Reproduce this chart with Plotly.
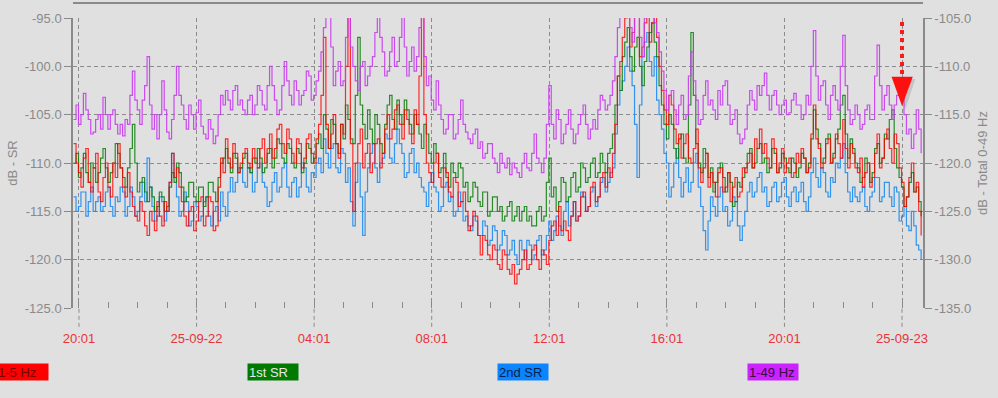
import pandas as pd
import plotly.graph_objects as go

# ---------------- data (5-minute samples) ----------------
start_time = "2025-09-21 19:50"
step = "5min"

band_1_5 = [
    -108.0, -110.0, -111.0, -112.5, -109.5, -108.5, -112.0, -113.0, -110.5, -109.0, -113.0, -114.0, -111.5, -110.0, -112.5, -113.5, -110.0, -111.5, -108.0, -110.5,
    -112.5, -113.5, -111.0, -113.0, -114.5, -115.5, -116.0, -114.0, -115.0, -116.5, -117.5, -115.0, -116.0, -117.0, -114.0, -115.5, -116.5, -114.0, -115.0, -112.0,
    -109.0, -111.5, -110.5, -112.5, -114.0, -115.5, -116.5, -115.0, -114.5, -117.0, -116.0, -114.0, -113.5, -116.5, -115.5, -113.5, -114.0, -117.0, -116.5, -112.5,
    -109.5, -111.0, -107.5, -109.5, -110.5, -108.0, -109.0, -111.0, -110.0, -109.0, -108.5, -110.0, -110.5, -108.5, -109.5, -110.5, -108.5, -107.5, -110.0, -108.5,
    -107.0, -109.5, -108.5, -106.5, -106.0, -108.0, -109.0, -106.5, -107.5, -109.0, -110.0, -107.5, -108.0, -110.5, -109.5, -107.5, -107.0, -109.0, -110.0, -107.5,
    -106.0, -103.0, -97.0, -106.0, -108.5, -107.0, -105.0, -108.0, -109.5, -106.0, -107.0, -100.0, -94.0, -108.0, -115.0, -110.0, -108.0, -106.5, -110.5, -109.0,
    -108.0, -111.0, -110.0, -108.0, -107.5, -110.5, -109.0, -106.5, -105.0, -107.5, -106.5, -104.5, -104.0, -106.0, -107.5, -104.5, -105.5, -107.0, -108.0, -104.5,
    -106.0, -101.0, -94.0, -105.0, -110.0, -111.0, -112.0, -110.0, -109.0, -111.5, -112.5, -110.5, -111.0, -113.0, -113.5, -111.5, -112.0, -114.5, -114.0, -113.0,
    -115.0, -117.0, -116.5, -115.0, -115.5, -117.5, -119.5, -117.5, -118.0, -119.5, -120.0, -118.5, -119.0, -120.5, -121.0, -119.0, -119.5, -121.0, -121.5, -120.5,
    -122.5, -121.5, -121.0, -120.0, -119.0, -121.0, -120.5, -119.0, -118.5, -120.0, -121.0, -119.0, -119.5, -120.5, -118.0, -116.5, -116.0, -117.5, -114.5, -117.0,
    -116.0, -117.0, -118.0, -115.5, -114.0, -116.0, -115.5, -113.5, -113.0, -115.0, -114.5, -112.5, -112.0, -114.0, -113.5, -111.5, -111.0, -112.5, -110.5, -111.5,
    -109.0, -106.0, -101.0, -99.5, -97.0, -95.0, -94.0, -98.0, -96.5, -94.0, -94.0, -99.0, -98.0, -95.5, -94.0, -97.5, -95.5, -94.0, -97.0, -100.0,
    -102.5, -104.5, -106.0, -103.0, -104.0, -106.5, -108.0, -107.0, -109.5, -108.0, -107.0, -109.5, -110.0, -108.5, -106.5, -110.5, -112.0, -110.5, -109.0, -112.5,
    -111.0, -112.0, -113.5, -111.0, -110.5, -113.0, -112.5, -111.0, -114.0, -112.5, -111.5, -113.5, -113.0, -110.5, -111.0, -110.0, -109.0, -110.5, -107.5, -108.5,
    -106.5, -109.0, -108.0, -109.5, -110.5, -107.5, -108.5, -111.0, -110.0, -108.5, -111.0, -110.0, -109.5, -111.5, -111.0, -109.0, -110.0, -108.5, -109.5, -111.0,
    -110.5, -107.0, -104.0, -107.5, -108.5, -110.5, -110.0, -108.0, -107.5, -110.0, -109.5, -107.0, -108.0, -109.5, -105.5, -108.5, -110.5, -108.0, -109.0, -110.5,
    -111.0, -109.5, -112.5, -111.0, -110.0, -112.5, -111.5, -109.0, -107.0, -110.5, -109.5, -107.5, -106.5, -108.5, -110.0, -107.0, -108.0, -110.5, -112.0, -114.5,
    -113.5, -111.5, -110.0, -113.0, -112.0, -115.0, -117.5,
]

first_sr = [
    -110.0, -109.0, -111.5, -110.5, -109.0, -111.0, -112.0, -110.0, -110.5, -112.0, -111.0, -109.5, -108.5, -110.5, -112.0, -111.0, -110.0, -108.0, -109.0, -110.5,
    -111.5, -112.5, -110.5, -108.5, -106.0, -110.0, -113.0, -112.0, -111.5, -113.0, -114.0, -112.5, -113.5, -115.0, -114.5, -113.0, -113.5, -115.0, -114.5, -112.5,
    -111.0, -112.0, -110.0, -111.0, -112.5, -114.0, -113.5, -112.0, -112.0, -113.5, -114.0, -112.5, -112.5, -114.5, -113.5, -112.0, -112.0, -113.0, -114.0, -111.5,
    -110.0, -109.5, -108.5, -110.0, -111.0, -109.0, -109.5, -111.0, -110.5, -109.5, -109.0, -110.5, -111.0, -109.5, -110.0, -108.5, -109.5, -111.0, -110.5, -109.0,
    -108.5, -110.5, -109.5, -107.5, -108.0, -109.5, -110.0, -108.0, -108.5, -110.0, -110.5, -108.5, -109.0, -111.0, -110.0, -108.0, -108.5, -110.0, -109.5, -108.0,
    -107.0, -108.5, -105.0, -106.5, -108.5, -105.5, -106.0, -108.0, -109.0, -106.0, -107.5, -104.0, -105.5, -107.5, -108.0, -103.0, -97.0, -104.0, -106.0, -107.5,
    -104.5, -106.5, -108.0, -105.0, -106.0, -108.0, -109.0, -106.0, -104.0, -103.0, -105.5, -106.5, -103.5, -105.0, -106.0, -103.5, -104.5, -106.0, -107.0, -105.0,
    -106.0, -107.0, -108.5, -106.0, -107.0, -109.0, -110.0, -108.0, -109.0, -111.0, -110.5, -109.0, -111.5, -112.5, -110.0, -111.0, -111.5, -110.0, -110.5, -112.5,
    -112.0, -114.0, -113.5, -112.0, -112.5, -114.0, -114.5, -113.0, -113.0, -115.5, -115.0, -113.5, -113.5, -115.0, -114.5, -116.0, -115.5, -114.5, -114.0, -116.0,
    -115.5, -114.5, -116.0, -115.0, -114.5, -116.0, -115.5, -116.5, -116.5, -115.0, -114.5, -116.0, -115.5, -112.0, -109.5, -113.5, -112.5, -115.0, -114.0, -111.5,
    -112.0, -114.0, -113.5, -111.5, -111.0, -113.0, -112.5, -110.0, -110.5, -112.0, -111.5, -110.0, -109.5, -111.5, -111.0, -109.0, -110.0, -111.0, -109.0, -108.5,
    -107.0, -104.0, -101.0, -102.5, -99.0, -97.5, -96.0, -99.0, -100.5, -98.0, -97.0, -100.0, -102.0, -99.5, -98.0, -96.5, -95.5, -97.5, -99.0, -102.0,
    -104.0, -106.0, -107.5, -105.0, -106.0, -108.5, -109.5, -107.5, -107.0, -109.5, -110.0, -104.0, -96.5, -103.0, -108.0, -110.0, -111.0, -108.5, -109.0, -111.5,
    -110.5, -113.0, -112.0, -110.5, -110.0, -111.5, -113.0, -111.0, -112.0, -114.5, -114.0, -112.0, -112.5, -111.5, -110.5, -109.0, -108.5, -110.5, -110.0, -108.5,
    -108.0, -110.0, -109.5, -111.0, -110.5, -108.5, -109.0, -111.0, -110.5, -109.0, -109.5, -110.5, -111.0, -109.5, -110.0, -111.5, -110.5, -109.0, -109.5, -111.0,
    -110.0, -107.5, -104.5, -106.5, -108.0, -110.0, -109.5, -107.5, -107.0, -110.0, -109.0, -107.5, -106.5, -104.0, -103.0, -107.0, -109.5, -107.5, -108.5, -110.0,
    -110.5, -112.0, -111.5, -109.5, -110.0, -112.0, -111.0, -108.5, -108.0, -110.0, -109.5, -107.0, -107.5, -105.5, -104.5, -108.5, -110.5, -111.5, -112.5, -114.5,
    -113.5, -112.0, -111.0, -113.0, -112.5, -114.0, -115.5,
]

second_sr = [
    -113.5, -115.0, -114.5, -113.0, -113.0, -115.5, -114.0, -112.5, -115.0, -114.0, -113.5, -115.0, -114.5, -113.0, -112.5, -114.5, -115.5, -113.5, -114.0, -112.5,
    -113.0, -115.5, -114.5, -112.5, -113.5, -115.5, -115.0, -113.5, -112.0, -114.0, -109.5, -112.5, -114.5, -116.0, -115.5, -113.5, -114.0, -116.0, -115.0, -112.0,
    -109.0, -111.5, -113.5, -115.5, -115.0, -113.0, -114.0, -116.5, -116.0, -114.0, -114.5, -116.0, -115.5, -114.0, -113.5, -115.5, -116.5, -115.0, -114.5, -116.0,
    -113.0, -114.5, -115.5, -113.0, -111.5, -113.0, -112.0, -110.5, -110.5, -112.0, -112.5, -110.5, -111.0, -113.0, -112.0, -110.5, -110.0, -112.0, -112.5, -114.5,
    -114.0, -112.0, -111.0, -113.0, -112.5, -110.5, -110.0, -112.5, -113.5, -112.0, -111.5, -113.5, -112.5, -110.0, -110.5, -112.5, -113.0, -111.0, -111.5, -110.0,
    -109.5, -111.0, -107.5, -109.0, -110.5, -108.5, -108.0, -110.5, -111.0, -108.5, -109.0, -112.0, -110.5, -114.0, -116.5, -112.0, -110.0, -113.5, -117.5, -113.0,
    -110.5, -109.0, -108.0, -110.5, -112.0, -110.0, -109.5, -107.0, -107.5, -109.5, -110.0, -108.0, -106.5, -108.0, -109.0, -111.5, -111.0, -109.0, -108.5, -111.0,
    -110.0, -111.5, -112.5, -113.0, -114.5, -112.0, -111.0, -112.5, -113.0, -115.0, -114.5, -112.5, -112.0, -114.0, -113.5, -115.5, -115.0, -113.0, -114.0, -116.0,
    -115.5, -116.5, -117.0, -115.5, -116.0, -117.5, -117.5, -116.0, -116.5, -118.5, -118.0, -116.5, -117.0, -119.0, -118.5, -117.0, -117.5, -119.5, -119.0, -118.0,
    -119.5, -120.5, -118.0, -119.0, -120.0, -118.0, -118.5, -120.0, -119.5, -118.0, -117.5, -119.5, -119.0, -117.5, -116.0, -118.0, -117.0, -115.5, -116.5, -117.5,
    -115.0, -114.0, -116.5, -115.5, -114.0, -116.0, -115.5, -113.0, -113.5, -115.0, -114.5, -113.0, -112.5, -114.5, -113.5, -112.0, -111.5, -113.0, -112.0, -111.0,
    -110.5, -107.0, -104.0, -102.5, -101.5, -100.0, -98.0, -100.5, -102.0, -106.0, -111.5, -104.0, -99.0, -97.5, -96.5, -99.5, -101.0, -99.0, -103.5, -105.0,
    -106.5, -109.0, -110.0, -113.5, -112.5, -110.0, -108.5, -111.5, -113.5, -112.0, -110.5, -113.0, -112.0, -110.0, -109.0, -112.5, -114.5, -117.0, -119.0, -116.0,
    -113.5, -114.5, -115.5, -113.5, -112.5, -115.0, -114.5, -116.5, -116.0, -113.5, -114.0, -116.5, -118.0, -116.5, -115.0, -113.0, -112.0, -113.5, -113.0, -111.5,
    -111.0, -113.0, -112.5, -114.5, -114.0, -112.5, -112.0, -114.0, -113.5, -112.0, -111.5, -113.5, -114.5, -113.0, -112.5, -114.0, -113.0, -112.0, -114.0, -115.0,
    -113.5, -111.0, -109.5, -111.5, -112.5, -110.5, -111.0, -113.0, -113.5, -111.5, -112.0, -110.0, -110.5, -109.5, -108.0, -111.0, -113.0, -114.0, -112.5, -113.5,
    -114.0, -113.0, -112.5, -114.5, -115.0, -113.5, -113.0, -111.5, -111.5, -114.0, -113.5, -112.0, -112.0, -113.5, -114.5, -112.5, -113.0, -116.0, -115.5, -114.5,
    -116.5, -117.0, -115.0, -116.5, -118.5, -119.0, -120.0,
]

# total 1-49 Hz, in units of the right-hand axis
total_1_49 = [
    -115.5, -114.0, -116.0, -115.0, -112.8, -114.5, -115.5, -117.0, -116.8, -115.5, -115.0, -116.5, -113.2, -115.0, -116.5, -115.0, -114.5, -116.0, -117.0, -116.0,
    -117.2, -115.5, -116.0, -113.0, -110.5, -113.5, -114.5, -116.0, -113.5, -112.0, -109.0, -114.0, -116.5, -115.0, -117.5, -115.0, -111.5, -114.5, -116.8, -117.5,
    -115.5, -113.0, -110.0, -113.0, -114.0, -115.5, -116.5, -114.0, -115.0, -116.5, -114.8, -113.5, -116.2, -117.0, -117.5, -115.5, -116.5, -118.0, -117.2, -115.0,
    -113.0, -114.0, -112.5, -113.5, -114.5, -112.5, -112.0, -114.0, -113.5, -114.5, -115.0, -113.5, -113.0, -115.0, -114.0, -112.0, -112.5, -114.0, -114.5, -112.0,
    -110.0, -112.0, -113.5, -115.0, -114.5, -112.0, -109.5, -111.5, -113.0, -114.0, -111.5, -112.5, -114.0, -113.0, -112.5, -110.5, -111.0, -113.5, -113.0, -111.5,
    -110.5, -108.5, -106.0, -104.0, -104.0, -108.0, -112.0, -110.5, -109.5, -112.0, -111.5, -107.0, -104.0, -108.0, -110.0, -111.5, -112.5, -110.0, -109.5, -112.0,
    -111.0, -110.0, -109.0, -106.5, -104.0, -107.0, -108.5, -111.0, -110.5, -108.5, -107.0, -110.0, -109.5, -107.0, -104.5, -108.0, -111.0, -109.5, -108.0, -110.5,
    -109.0, -106.0, -104.0, -109.0, -112.0, -111.0, -113.5, -114.5, -111.5, -114.0, -115.5, -117.0, -116.5, -115.0, -115.0, -117.5, -117.0, -115.5, -113.5, -116.0,
    -116.8, -117.5, -118.0, -117.0, -116.5, -118.5, -117.8, -119.5, -119.0, -118.0, -118.0, -119.5, -120.0, -121.0, -119.0, -120.0, -120.5, -119.5, -121.2, -120.0,
    -120.5, -121.0, -121.5, -120.0, -119.0, -120.5, -120.8, -119.0, -117.0, -119.5, -120.0, -121.0, -119.5, -116.0, -112.0, -116.0, -117.5, -114.5, -115.5, -118.0,
    -117.0, -116.0, -114.5, -116.5, -118.0, -117.0, -116.0, -115.0, -114.0, -116.0, -117.5, -116.5, -115.5, -116.5, -114.5, -113.0, -113.5, -114.5, -114.0, -113.0,
    -111.5, -109.0, -106.0, -104.0, -104.0, -104.0, -104.0, -106.0, -107.5, -104.0, -104.0, -107.0, -109.0, -105.0, -104.0, -104.0, -104.0, -105.5, -106.5, -108.5,
    -110.5, -112.5, -114.5, -113.0, -112.5, -114.5, -116.0, -114.0, -113.0, -115.5, -115.0, -111.0, -108.5, -111.5, -113.5, -116.0, -115.5, -113.0, -111.5, -114.0,
    -113.5, -114.5, -115.5, -112.5, -114.0, -112.0, -111.5, -114.0, -116.0, -115.5, -114.5, -117.0, -118.0, -117.5, -116.5, -114.0, -112.5, -113.5, -114.5, -112.0,
    -113.0, -112.0, -110.7, -113.0, -114.5, -113.0, -112.5, -114.0, -115.0, -114.0, -113.5, -115.0, -114.8, -113.5, -112.8, -114.0, -114.0, -115.5, -115.0, -113.0,
    -114.0, -110.0, -106.3, -111.0, -113.5, -112.0, -111.5, -114.0, -115.5, -113.0, -112.0, -113.5, -114.5, -110.0, -106.8, -112.0, -114.5, -116.0, -115.5, -114.0,
    -115.0, -116.5, -116.0, -114.5, -114.0, -115.5, -115.5, -111.0, -107.8, -112.0, -114.5, -113.0, -112.0, -114.0, -115.5, -114.0, -113.0, -111.5, -112.0, -115.0,
    -117.0, -116.5, -118.5, -117.0, -114.5, -116.5, -119.0,
]

x_tick_times = ["2025-09-21 20:01", "2025-09-22 00:01", "2025-09-22 04:01",
                "2025-09-22 08:01", "2025-09-22 12:01", "2025-09-22 16:01",
                "2025-09-22 20:01", "2025-09-23 00:01"]
x_tick_labels = ["20:01", "25-09-22", "04:01", "08:01", "12:01", "16:01",
                 "20:01", "25-09-23"]
y_left_ticks = [-125, -120, -115, -110, -105, -100, -95]
y_left_labels = ["-125.0", "-120.0", "-115.0", "-110.0", "-105.0", "-100.0", "-95.0"]
y_right_ticks = [-135, -130, -125, -120, -115, -110, -105]
y_right_labels = ["-135.0", "-130.0", "-125.0", "-120.0", "-115.0", "-110.0", "-105.0"]

series_names = ["1-5 Hz", "1st SR", "2nd SR", "1-49 Hz"]
series_colors = ["#ff0000", "#0b7d0b", "#1e8cf0", "#c93cf0"]
box_colors = ["#ff0000", "#007a00", "#0a84ff", "#cc22ff"]
box_text_colors = ["#7a0000", "#e8e8e8", "#0b1f4f", "#3a0a40"]

# ---------------- figure ----------------
times = pd.date_range(start_time, periods=len(band_1_5), freq=step)

BG = "#e0e0e0"
GRID = "#8c8c8c"
TXT = "#8a8a8a"
FONT = "Liberation Sans, Arial, sans-serif"

fig = go.Figure()
line_kw = dict(mode="lines", line_shape="hv", showlegend=False, hoverinfo="skip")
fig.add_trace(go.Scatter(x=times, y=total_1_49, yaxis="y2", name=series_names[3],
                         line=dict(color=series_colors[3], width=1.2), opacity=0.9, **line_kw))
fig.add_trace(go.Scatter(x=times, y=second_sr, name=series_names[2],
                         line=dict(color=series_colors[2], width=1.2), opacity=0.9, **line_kw))
fig.add_trace(go.Scatter(x=times, y=first_sr, name=series_names[1],
                         line=dict(color=series_colors[1], width=1.2), opacity=0.85, **line_kw))
fig.add_trace(go.Scatter(x=times, y=band_1_5, name=series_names[0],
                         line=dict(color=series_colors[0], width=1.2), opacity=0.8, **line_kw))

fig.update_layout(
    width=998, height=398,
    margin=dict(l=73, r=75, t=18, b=90),
    paper_bgcolor=BG, plot_bgcolor=BG,
    font=dict(family=FONT, size=13, color=TXT),
    xaxis=dict(
        type="date", automargin=False,
        range=["2025-09-21 19:48:48", "2025-09-23 00:43:48"],
        tickvals=x_tick_times, ticktext=x_tick_labels,
        tickfont=dict(color="#e8323c", size=13),
        showgrid=True, gridcolor=GRID, griddash="4px,3px", gridwidth=1,
        ticks="outside", ticklen=18, tickcolor=BG, tickwidth=1,
        showline=False, zeroline=False,
        minor=dict(dtick=3600000, tick0="2025-09-21 20:01", ticks="inside",
                   ticklen=6, tickcolor="#8a8a8a", showgrid=False),
    ),
    yaxis=dict(
        automargin=False,
        range=[-125, -95], tickvals=y_left_ticks, ticktext=y_left_labels,
        showgrid=True, gridcolor=GRID, griddash="4px,3px", gridwidth=1,
        showline=True, linecolor="#8a8a8a", linewidth=1.5,
        ticks="outside", ticklen=7, tickcolor="#8a8a8a",
        zeroline=False,
        title=dict(text="dB - SR", font=dict(size=13, color=TXT), standoff=4),
    ),
    yaxis2=dict(
        automargin=False,
        range=[-135, -105], tickvals=y_right_ticks, ticktext=y_right_labels,
        overlaying="y", side="right", showgrid=False,
        showline=True, linecolor="#8a8a8a", linewidth=1.5,
        ticks="outside", ticklen=7, tickcolor="#8a8a8a",
        zeroline=False,
        title=dict(text="dB - Total 0-49 Hz", font=dict(size=13, color=TXT), standoff=8),
    ),
)

# dashed continuation of the major x gridlines below the plot
for t in x_tick_times:
    fig.add_shape(type="line", xref="x", yref="paper", x0=t, x1=t, y0=-0.065, y1=0,
                  line=dict(color=GRID, width=1, dash="4px,3px"))

# top border line
fig.add_shape(type="line", xref="paper", yref="paper", x0=0, x1=1, y0=1.052, y1=1.052,
              line=dict(color="#6e6e6e", width=1.5))

# legend boxes (left edge in paper units, box widths)
legend_left = [-0.0906, 0.2047, 0.4988, 0.7929]
legend_width = [49, 48, 48, 48]
for name, bx, bw, fc, tc in zip(series_names, legend_left, legend_width, box_colors, box_text_colors):
    fig.add_annotation(xref="paper", yref="paper", x=bx, y=-0.19, xanchor="left", yanchor="top",
                       text=name, showarrow=False, align="left", width=bw, height=14,
                       bgcolor=fc, borderpad=1, font=dict(size=13, color=tc, family=FONT))

# red marker arrow
ax_x = 0.9753
fig.add_shape(type="line", xref="paper", yref="paper", x0=ax_x, x1=ax_x, y0=0.986, y1=0.79,
              line=dict(color="#ff1a1a", width=4, dash="dot"))
fig.add_shape(type="path", xref="paper", yref="paper",
              path=f"M {0.966} 0.790 L {0.991} 0.790 L {ax_x + 0.004} 0.686 Z",
              fillcolor="rgba(0,0,0,0.12)", line=dict(width=0))
fig.add_shape(type="path", xref="paper", yref="paper",
              path=f"M {0.9630} 0.797 L {0.9880} 0.797 L {ax_x} 0.6966 Z",
              fillcolor="#ff1010", line=dict(width=0))

fig.write_html("out.html", config={"displayModeBar": False},
               post_script="document.body.style.margin='0';")
